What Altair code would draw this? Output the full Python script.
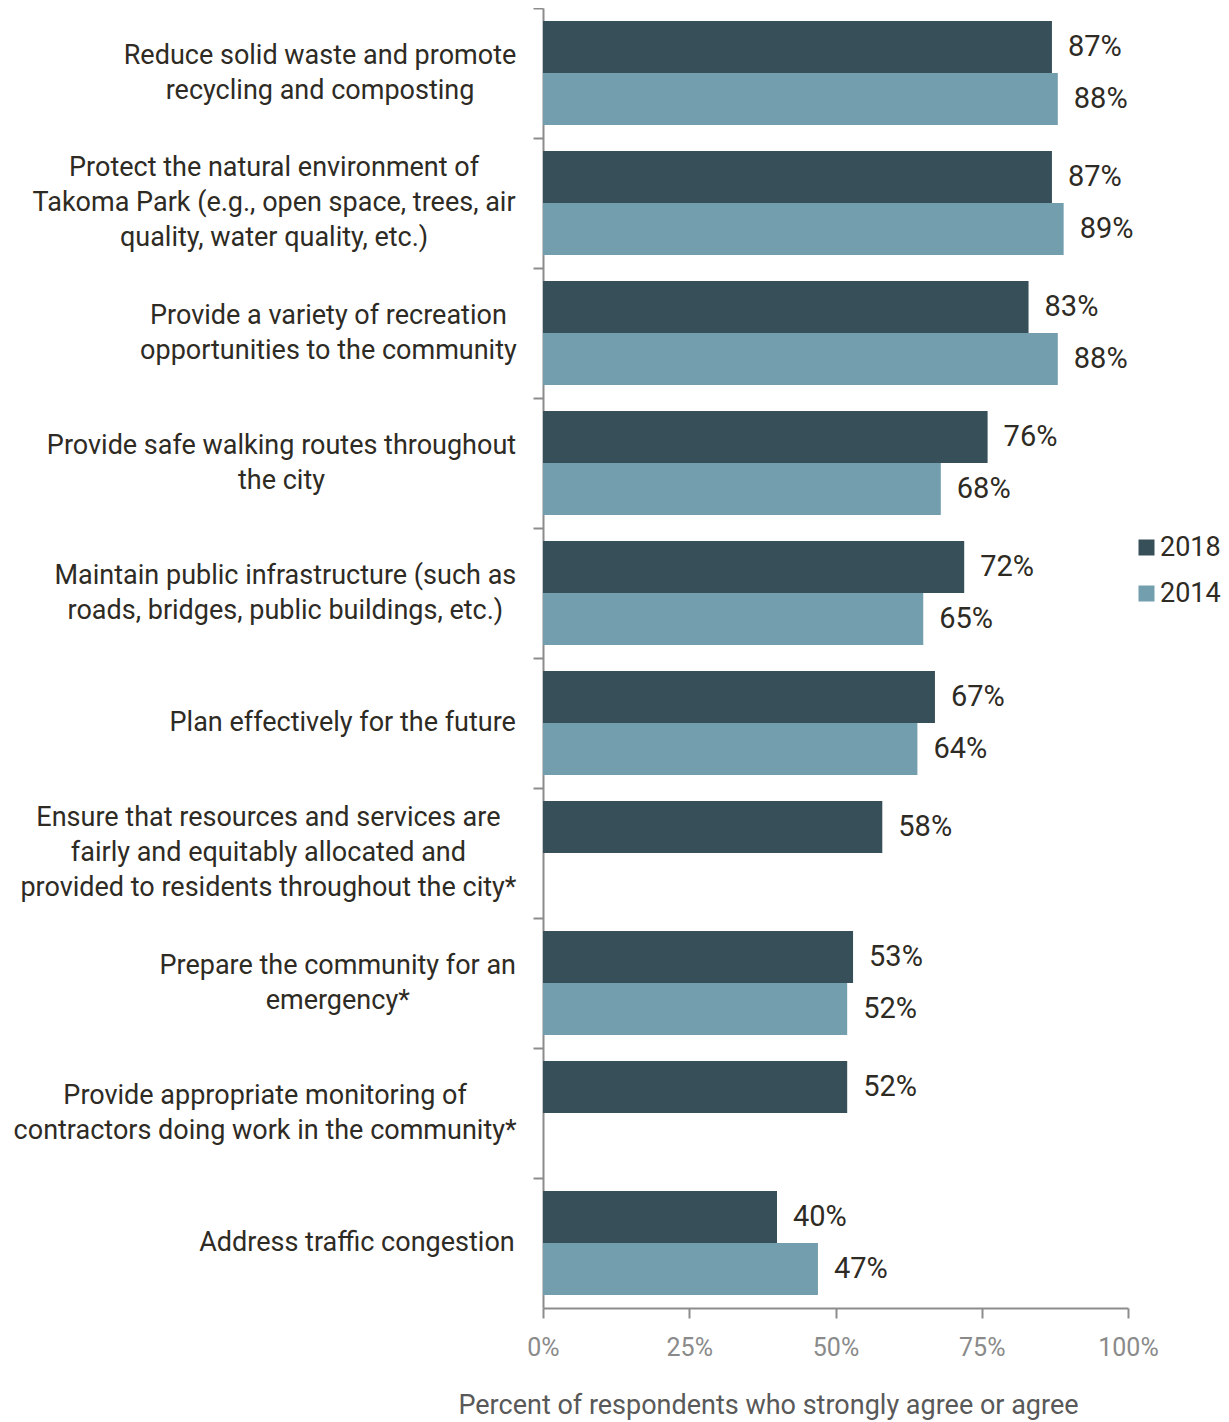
import altair as alt
import pandas as pd

# ---- data ----
category_lines = [
    ["Reduce solid waste and promote", "recycling and composting"],
    ["Protect the natural environment of", "Takoma Park (e.g., open space, trees, air", "quality, water quality, etc.)"],
    ["Provide a variety of recreation", "opportunities to the community"],
    ["Provide safe walking routes throughout", "the city"],
    ["Maintain public infrastructure (such as", "roads, bridges, public buildings, etc.)"],
    ["Plan effectively for the future"],
    ["Ensure that resources and services are", "fairly and equitably allocated and", "provided to residents throughout the city*"],
    ["Prepare the community for an", "emergency*"],
    ["Provide appropriate monitoring of", "contractors doing work in the community*"],
    ["Address traffic congestion"],
]
values_2018 = [87, 87, 83, 76, 72, 67, 58, 53, 52, 40]
values_2014 = [88, 89, 88, 68, 65, 64, None, 52, None, 47]
years = ["2018", "2014"]
colors = ["#374f59", "#739ead"]

# ---- layout helpers ----
PLOT_W = 585
PLOT_H = 1300
LABEL_FS = 27
LINE_H = 35
VALUE_FS = 29
TEXT_COLOR = "#2e2b24"
AXIS_COLOR = "#8c8c8c"

# Approximate Roboto Regular advance widths (units per em = 2048)
W = {' ': 507, '(': 684, ')': 696, '*': 861, ',': 393, '-': 552, '.': 527, '%': 1466,
     'A': 1336, 'E': 1164, 'M': 1788, 'P': 1292, 'R': 1261, 'T': 1221,
     'a': 1088, 'b': 1122, 'c': 1046, 'd': 1126, 'e': 1058, 'f': 693, 'g': 1120,
     'h': 1101, 'i': 486, 'j': 477, 'k': 1014, 'l': 486, 'm': 1753, 'n': 1103,
     'o': 1141, 'p': 1120, 'q': 1129, 'r': 677, 's': 1031, 't': 654, 'u': 1102,
     'v': 968, 'w': 1502, 'x': 991, 'y': 945, 'z': 991}


def text_width(s, size):
    return sum(W.get(ch, 1100) for ch in s) / 2048 * size * 1.015


cat_keys = [" ".join(lines) for lines in category_lines]

rows = []
for key, a, b in zip(cat_keys, values_2018, values_2014):
    rows.append({"cat": key, "year": "2018", "value": a})
    if b is not None:
        rows.append({"cat": key, "year": "2014", "value": b})
df = pd.DataFrame(rows)
df["label"] = df["value"].astype(int).astype(str) + "%"

# Category label blocks: lines centred, widest line right-aligned 28px left of the axis
label_rows = []
for key, lines in zip(cat_keys, category_lines):
    maxw = max(text_width(l, LABEL_FS) for l in lines)
    cx_px = -28 - maxw / 2
    label_rows.append({"cat": key, "text": "\n".join(lines), "n": len(lines),
                       "cx": cx_px / PLOT_W * 100})
ldf = pd.DataFrame(label_rows)

xscale = alt.Scale(domain=[0, 100], nice=False, zero=True)
yscale = alt.Scale(paddingInner=0, paddingOuter=0)
yoff_scale = alt.Scale(paddingInner=0, paddingOuter=0.25)

y_enc = alt.Y(
    "cat:N", sort=cat_keys, scale=yscale, title=None,
    axis=alt.Axis(labels=False, tickSize=10, tickWidth=2, tickColor=AXIS_COLOR,
                  domainColor=AXIS_COLOR, domainWidth=2, bandPosition=0, grid=False),
)

bars = alt.Chart(df).mark_bar().encode(
    y=y_enc,
    yOffset=alt.YOffset("year:N", sort=years, scale=yoff_scale),
    x=alt.X(
        "value:Q", scale=xscale,
        axis=alt.Axis(values=[0, 25, 50, 75, 100], labelExpr="datum.value + '%'",
                      tickSize=10, tickWidth=2, tickColor=AXIS_COLOR, domainColor=AXIS_COLOR,
                      domainWidth=2, labelFont="Roboto", labelFontSize=25, labelColor="#8a8a8a",
                      labelPadding=17, labelFlush=False, grid=False,
                      title="Percent of respondents who strongly agree or agree",
                      titleFont="Roboto", titleFontSize=27, titleFontWeight="normal",
                      titleColor="#595959", titleX=225, titleY=105, titleAlign="center",
                      titleBaseline="alphabetic"),
    ),
    color=alt.Color(
        "year:N", sort=years, scale=alt.Scale(domain=years, range=colors),
        legend=alt.Legend(title=None, orient="none", legendX=590, legendY=526, padding=0,
                          symbolType="square", symbolSize=256, symbolStrokeWidth=0,
                          labelFont="Roboto", labelFontSize=27, labelColor=TEXT_COLOR,
                          rowPadding=18, labelOffset=0),
    ),
)

value_text = alt.Chart(df).mark_text(
    align="left", baseline="middle", dx=16, font="Roboto", fontSize=VALUE_FS, color=TEXT_COLOR
).encode(
    y=alt.Y("cat:N", sort=cat_keys, scale=yscale),
    yOffset=alt.YOffset("year:N", sort=years, scale=yoff_scale),
    x=alt.X("value:Q", scale=xscale),
    text="label:N",
)

cat_layers = []
for n in (1, 2, 3):
    cat_layers.append(
        alt.Chart(ldf).transform_filter(f"datum.n == {n}").mark_text(
            align="center", baseline="middle", lineBreak="\n", lineHeight=LINE_H,
            dy=-(n - 1) * LINE_H / 2,
            font="Roboto", fontSize=LABEL_FS, color=TEXT_COLOR
        ).encode(
            y=alt.Y("cat:N", sort=cat_keys, scale=yscale),
            x=alt.X("cx:Q", scale=xscale),
            text="text:N",
        )
    )

chart = alt.layer(bars, value_text, *cat_layers).properties(
    width=PLOT_W,
    height=PLOT_H,
    autosize=alt.AutoSizeParams(type="none"),
    padding={"left": 535, "top": 0, "right": 93, "bottom": 114},
).configure_view(stroke=None).configure_axis(grid=False)

chart.save("out.html", embed_options={"renderer": "svg", "actions": False})
